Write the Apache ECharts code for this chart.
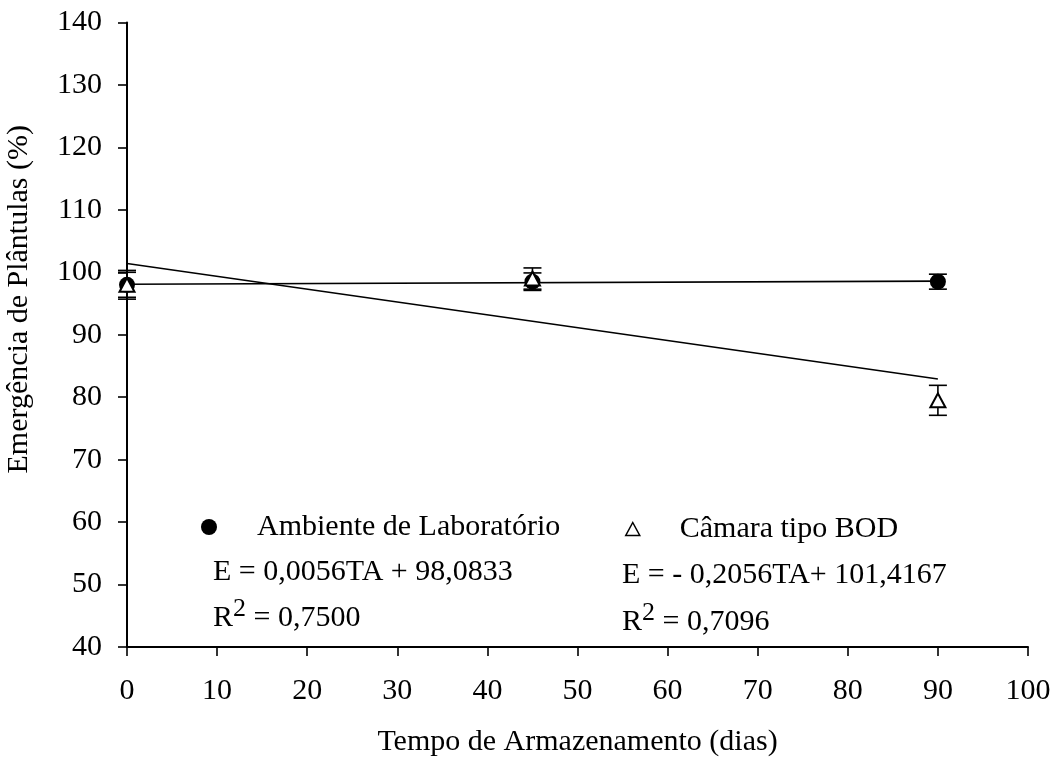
<!DOCTYPE html>
<html>
<head>
<meta charset="utf-8">
<script src="https://cdn.jsdelivr.net/npm/echarts@6/dist/echarts.min.js"></script>
<style>
  html, body { margin: 0; padding: 0; background: #fff; }
  #chart { width: 1056px; height: 758px; }
</style>
</head>
<body>
<div id="chart"></div>
<script>
// Storage time (days) at which seedling emergence was measured
const days = [0, 45, 90];

// Mean emergence (%) and standard-error half-widths
const labMeans = [98, 98.5, 98.5];
const labErrors = [2.0, 1.4, 1.2];
const bodMeans = [98, 99, 79.5];
const bodErrors = [2.3, 1.7, 2.4];

// Fitted linear regressions E = a*TA + b
const labFit = { a: 0.0056, b: 98.0833 };
const bodFit = { a: -0.2056, b: 101.4167 };

const seriesNames = ['Ambiente de Laboratório', 'Câmara tipo BOD'];
const FONT = '"Liberation Serif", "Times New Roman", serif';
const FS = 30;

const pts = (means) => days.map((d, i) => [d, means[i]]);
const bars = (means, errs) => days.map((d, i) => [d, means[i] - errs[i], means[i] + errs[i]]);
const fitLine = (f) => [[days[0], f.a * days[0] + f.b], [days[days.length - 1], f.a * days[days.length - 1] + f.b]];

function errorBar(params, api) {
  const x = api.value(0);
  const lo = api.coord([x, api.value(1)]);
  const hi = api.coord([x, api.value(2)]);
  const hw = 9;
  const style = { stroke: '#000', lineWidth: 1.6 };
  return {
    type: 'group',
    children: [
      { type: 'line', shape: { x1: lo[0], y1: lo[1], x2: hi[0], y2: hi[1] }, style },
      { type: 'line', shape: { x1: lo[0] - hw, y1: lo[1], x2: lo[0] + hw, y2: lo[1] }, style },
      { type: 'line', shape: { x1: hi[0] - hw, y1: hi[1], x2: hi[0] + hw, y2: hi[1] }, style }
    ]
  };
}

const chart = echarts.init(document.getElementById('chart'), null, { renderer: 'canvas' });

chart.setOption({
  animation: false,
  backgroundColor: '#fff',
  textStyle: { fontFamily: FONT, color: '#000' },
  grid: { left: 127, right: 28, top: 22.5, bottom: 111, containLabel: false, outerBoundsMode: 'none' },
  legend: [
    {
      data: [{ name: seriesNames[0], icon: 'circle' }],
      left: 196, top: 507,
      itemWidth: 16, itemHeight: 16,
      textStyle: { fontFamily: FONT, fontSize: FS, color: '#000', padding: [0, 0, 0, 35] },
      selectedMode: false
    },
    {
      data: [{ name: seriesNames[1], icon: 'triangle' }],
      left: 620, top: 509,
      itemWidth: 14, itemHeight: 13,
      textStyle: { fontFamily: FONT, fontSize: FS, color: '#000', padding: [0, 0, 0, 35] },
      itemStyle: { color: '#fff', borderColor: '#000', borderWidth: 1.5 },
      selectedMode: false
    }
  ],
  xAxis: {
    type: 'value', min: 0, max: 100, interval: 10,
    name: 'Tempo de Armazenamento (dias)',
    nameLocation: 'middle', nameGap: 80,
    nameTextStyle: { fontFamily: FONT, fontSize: FS, color: '#000' },
    axisLine: { onZero: false, lineStyle: { color: '#000', width: 2 } },
    axisTick: { show: true, inside: false, length: 9, lineStyle: { color: '#000', width: 1.6 } },
    axisLabel: { fontFamily: FONT, fontSize: FS, color: '#000', margin: 29 },
    splitLine: { show: false }
  },
  yAxis: {
    type: 'value', min: 40, max: 140, interval: 10,
    axisLine: { show: true, onZero: false, lineStyle: { color: '#000', width: 2 } },
    axisTick: { show: true, inside: false, length: 9, lineStyle: { color: '#000', width: 1.6 } },
    axisLabel: { fontFamily: FONT, fontSize: FS, color: '#000', margin: 25 },
    splitLine: { show: false }
  },
  graphic: [
    {
      type: 'text', left: 4, top: 125, rotation: Math.PI / 2,
      style: { text: 'Emergência de Plântulas (%)', font: FS + 'px ' + FONT, fill: '#000' }
    },
    {
      type: 'text', left: 213, top: 557,
      style: { text: 'E = 0,0056TA + 98,0833', font: FS + 'px ' + FONT, fill: '#000' }
    },
    {
      type: 'text', left: 213, top: 596,
      style: {
        text: 'R{s|2} = 0,7500',
        font: FS + 'px ' + FONT, fill: '#000',
        rich: { s: { fontFamily: FONT, fontSize: 26, fill: '#000', padding: [0, 0, 18, 0] } }
      }
    },
    {
      type: 'text', left: 622, top: 560,
      style: { text: 'E = - 0,2056TA+ 101,4167', font: FS + 'px ' + FONT, fill: '#000' }
    },
    {
      type: 'text', left: 622, top: 600,
      style: {
        text: 'R{s|2} = 0,7096',
        font: FS + 'px ' + FONT, fill: '#000',
        rich: { s: { fontFamily: FONT, fontSize: 26, fill: '#000', padding: [0, 0, 18, 0] } }
      }
    }
  ],
  series: [
    {
      name: 'fit-lab', type: 'line', data: fitLine(labFit), symbol: 'none',
      lineStyle: { color: '#000', width: 1.6 }, silent: true, z: 2
    },
    {
      name: 'fit-bod', type: 'line', data: fitLine(bodFit), symbol: 'none',
      lineStyle: { color: '#000', width: 1.6 }, silent: true, z: 2
    },
    {
      name: 'err-lab', type: 'custom', renderItem: errorBar, data: bars(labMeans, labErrors), z: 3
    },
    {
      name: 'err-bod', type: 'custom', renderItem: errorBar, data: bars(bodMeans, bodErrors), z: 3
    },
    {
      name: seriesNames[0], type: 'scatter', data: pts(labMeans),
      symbol: 'circle', symbolSize: 16,
      itemStyle: { color: '#000', opacity: 1 }, z: 4
    },
    {
      name: seriesNames[1], type: 'scatter', data: pts(bodMeans),
      symbol: 'triangle', symbolSize: [15, 14],
      itemStyle: { color: '#fff', borderColor: '#000', borderWidth: 2, opacity: 1 }, z: 5
    }
  ]
});
</script>
</body>
</html>
